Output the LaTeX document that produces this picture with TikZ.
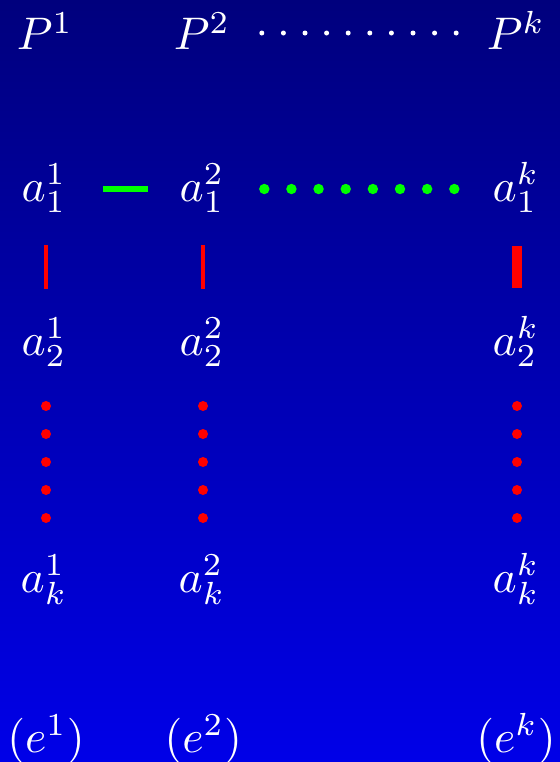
\documentclass[tikz,border=0pt]{standalone}
\usepackage{amsmath}
\usepackage{tikz}
\usetikzlibrary{positioning,calc}
\definecolor{bgtop}{RGB}{0,0,125}
\definecolor{bgbot}{RGB}{0,0,232}

\begin{document}
\begin{tikzpicture}[
    font=\normalsize,
    term/.style={
        text=white,
        scale=3.25,
        inner sep=0pt,
        text height=0.2769cm,
        text depth=0.0923cm,
        anchor=base
    },
    redbar/.style={draw=red, line width=0.1cm},
    thickbar/.style={draw=red, line width=0.25cm},
    reddots/.style={
        draw=red,
        line width=0.25cm,
        line cap=round,
        dash pattern=on 0pt off 0.7cm
    },
    greenbar/.style={draw=green, line width=0.15cm},
    greendots/.style={
        draw=green,
        line width=0.26cm,
        line cap=round,
        dash pattern=on 0pt off 0.6786cm
    },
    whitedots/.style={
        draw=white,
        line width=0.125cm,
        line cap=round,
        dash pattern=on 0pt off 0.54cm
    }
]

% background
\useasboundingbox (0,0) rectangle (14,-19.05);
\fill[top color=bgtop, bottom color=bgbot] (0,0) rectangle (14,-19.05);

% column heads
\node[term] (P1) at (1.125,-1.25) {$P^1$};
\node[term] (P2) at (5.05,-1.25) {$P^2$};
\node[term] (Pk) at (12.9,-1.25) {$P^k$};

% first row
\node[term] (a11) at (1.1,-5.025) {$a_1^1$};
\node[term] (a12) at (5.05,-5.025) {$a_1^2$};
\node[term] (a1k) at (12.9,-5.025) {$a_1^k$};

% second row
\node[term] (a21) at (1.1,-8.875) {$a_2^1$};
\node[term] (a22) at (5.05,-8.875) {$a_2^2$};
\node[term] (a2k) at (12.9,-8.875) {$a_2^k$};

% last row
\node[term] (ak1) at (1.1,-14.8) {$a_k^1$};
\node[term] (ak2) at (5.05,-14.8) {$a_k^2$};
\node[term] (akk) at (12.9,-14.8) {$a_k^k$};

% bottom labels
\node[term] (e1) at (1.15,-18.8) {$(e^1)$};
\node[term] (e2) at (5.08,-18.8) {$(e^2)$};
\node[term] (ek) at (12.9,-18.8) {$(e^k)$};

% across
\draw[whitedots, shorten <=1.495cm, shorten >=1.475cm]
    ([yshift=0.125cm]P2.center) -- ([yshift=0.125cm]Pk.center);
\draw[greenbar, shorten <=1.475cm, shorten >=1.35cm] (a11.center) -- (a12.center);
\draw[greendots, shorten <=1.5575cm, shorten >=1.53cm] (a12.center) -- (a1k.center);

% down
\draw[redbar, shorten <=1.4cm, shorten >=1.35cm]
    ([xshift=0.05cm]a11.center) -- ([xshift=0.05cm]a21.center);
\draw[redbar, shorten <=1.4cm, shorten >=1.35cm]
    ([xshift=0.025cm]a12.center) -- ([xshift=0.025cm]a22.center);
\draw[thickbar, shorten <=1.425cm, shorten >=1.375cm]
    ([xshift=0.025cm]a1k.center) -- ([xshift=0.025cm]a2k.center);
\draw[reddots, shorten <=1.575cm, shorten >=1.5375cm]
    ([xshift=0.05cm]a21.center) -- ([xshift=0.05cm]ak1.center);
\draw[reddots, shorten <=1.575cm, shorten >=1.5375cm]
    ([xshift=0.025cm]a22.center) -- ([xshift=0.025cm]ak2.center);
\draw[reddots, shorten <=1.575cm, shorten >=1.5375cm]
    ([xshift=0.025cm]a2k.center) -- ([xshift=0.025cm]akk.center);

\end{tikzpicture}
\end{document}
